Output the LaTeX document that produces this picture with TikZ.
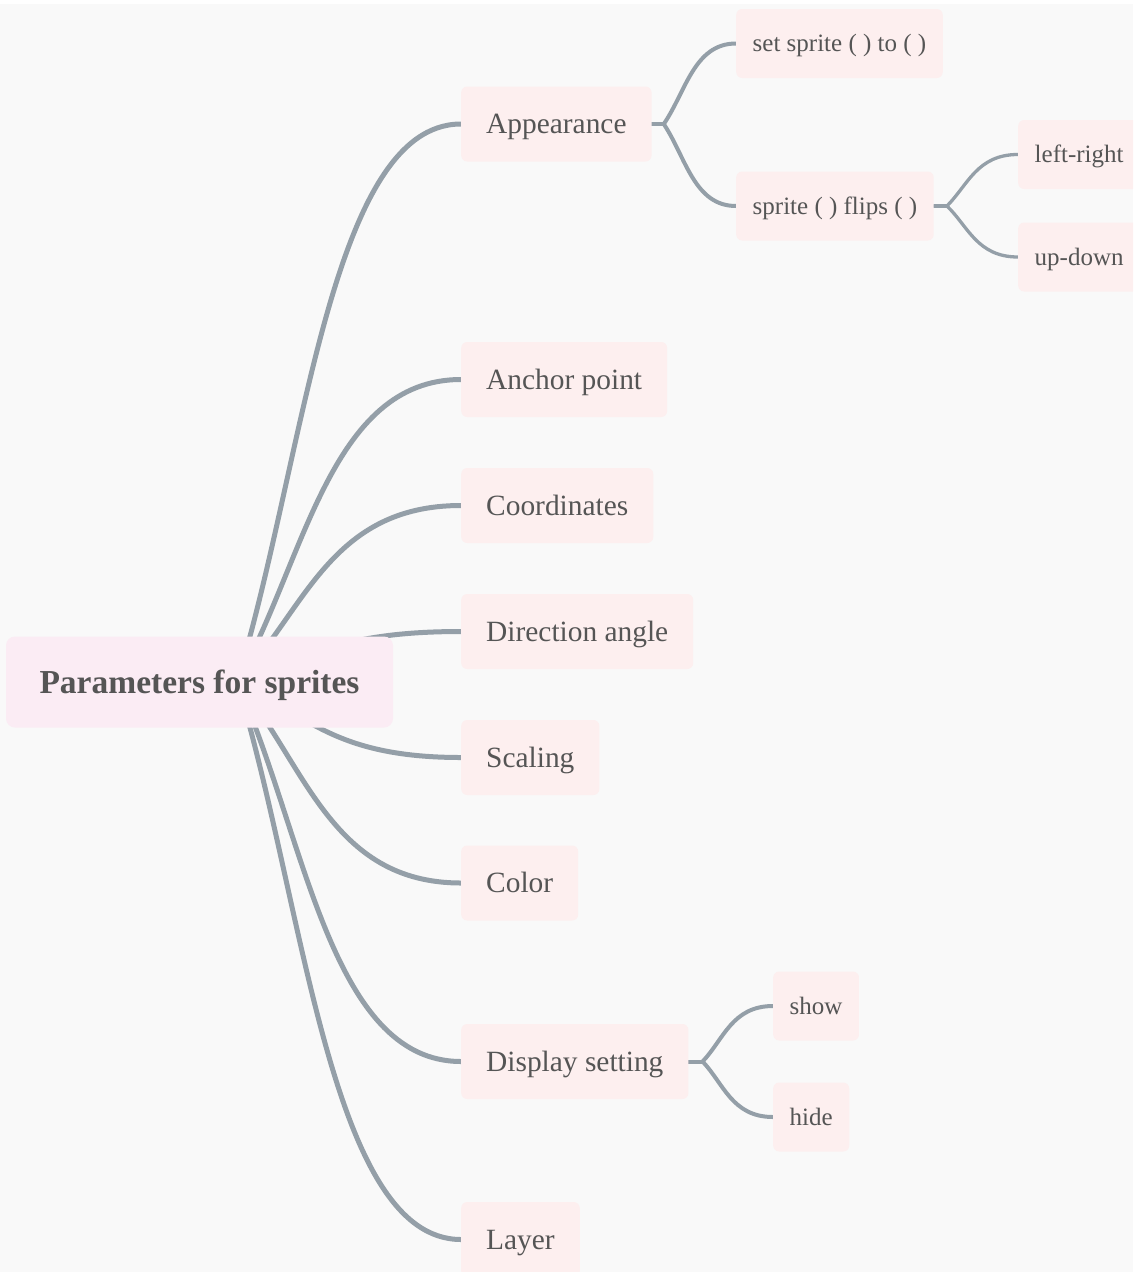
\documentclass[tikz,border=0pt]{standalone}
\usepackage{fontspec}
\setmainfont{Liberation Serif}
\usetikzlibrary{backgrounds,calc}
\definecolor{bgc}{RGB}{249,249,249}
\definecolor{rootfill}{RGB}{251,236,244}
\definecolor{nodefill}{RGB}{253,239,239}
\definecolor{edgec}{RGB}{148,159,168}
\definecolor{txt}{RGB}{85,85,85}
\begin{document}
\begin{tikzpicture}[x=1pt,y=-1pt,
 rootbox/.style={fill=rootfill, rounded corners=9pt, minimum height=91pt, minimum width=387pt, inner sep=0pt, text height=25pt, text depth=2.8pt, font=\fontsize{33.5}{40}\selectfont\bfseries, text=txt},
 lvone/.style={fill=nodefill, rounded corners=6pt, anchor=west, minimum height=75pt, inner xsep=25pt, inner ysep=0pt, text height=22pt, text depth=3pt, font=\fontsize{29.4}{35}\selectfont, text=txt},
 lvtwo/.style={fill=nodefill, rounded corners=6pt, anchor=west, minimum height=69pt, inner xsep=16.5pt, inner ysep=0pt, text height=19pt, text depth=2.5pt, font=\fontsize{25}{30}\selectfont, text=txt},
 eone/.style={draw=edgec, line width=5pt, line cap=round},
 etwo/.style={draw=edgec, line width=4pt, line cap=round},
 ethree/.style={draw=edgec, line width=3.3pt, line cap=round},
]
\useasboundingbox (0,0) rectangle (1133,1272);
\begin{scope}
\clip (0,0) rectangle (1133,1272);
\node[rootbox] (root) at (199.5,682) {Parameters for sprites};
\node[lvone] (app) at (461,124) {Appearance};
\node[lvone] (anc) at (461,379.5) {Anchor point};
\node[lvone] (coo) at (461,505.5) {Coordinates};
\node[lvone] (dir) at (461,631.5) {Direction angle};
\node[lvone] (sca) at (461,757.5) {Scaling};
\node[lvone] (col) at (461,883) {Color};
\node[lvone] (dis) at (461,1061.5) {Display setting};
\node[lvone] (lay) at (461,1239.5) {Layer};
\node[lvtwo] (set) at (736,43.5) {set sprite ( ) to ( )};
\node[lvtwo] (flp) at (736,206) {sprite ( ) flips ( )};
\node[lvtwo] (lr) at (1018,154.5) {left-right};
\node[lvtwo] (ud) at (1018,257) {up-down};
\node[lvtwo] (sho) at (773,1006) {show};
\node[lvtwo] (hid) at (773,1117) {hide};
\end{scope}
\begin{scope}[on background layer]
\fill[white] (0,0) rectangle (1133,1272);
\fill[bgc] (0,4) rectangle (1133,1272);
\coordinate (rs) at ($(root.center)+(37.5,0)$);
\draw[eone] (rs) .. controls +(68,-223) and +(-131,0) .. (app.west);
\draw[eone] (rs) .. controls +(68,-121) and +(-131,0) .. (anc.west);
\draw[eone] (rs) .. controls +(68,-71) and +(-131,0) .. (coo.west);
\draw[eone] (rs) .. controls +(68,-20) and +(-131,0) .. (dir.west);
\draw[eone] (rs) .. controls +(68,30) and +(-131,0) .. (sca.west);
\draw[eone] (rs) .. controls +(68,80) and +(-131,0) .. (col.west);
\draw[eone] (rs) .. controls +(68,152) and +(-131,0) .. (dis.west);
\draw[eone] (rs) .. controls +(68,223) and +(-131,0) .. (lay.west);
\draw[etwo] (app.east) -- ++(12,0) coordinate (ja);
\draw[etwo] (ja) .. controls +(22,-32) and +(-42,0) .. (set.west);
\draw[etwo] (ja) .. controls +(22,33) and +(-42,0) .. (flp.west);
\draw[ethree] (flp.east) -- ++(13,0) coordinate (jf);
\draw[ethree] (jf) .. controls +(21,-21) and +(-41,0) .. (lr.west);
\draw[ethree] (jf) .. controls +(21,20) and +(-41,0) .. (ud.west);
\draw[etwo] (dis.east) -- ++(14,0) coordinate (jd);
\draw[etwo] (jd) .. controls +(21,-22) and +(-41,0) .. (sho.west);
\draw[etwo] (jd) .. controls +(21,22) and +(-41,0) .. (hid.west);
\end{scope}
\end{tikzpicture}
\end{document}
